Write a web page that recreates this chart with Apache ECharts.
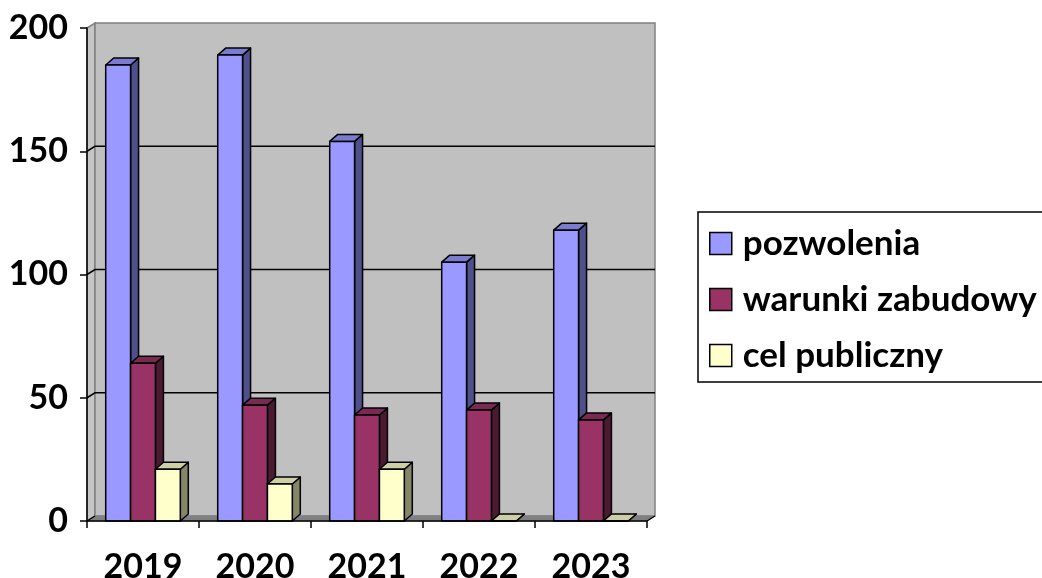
<!DOCTYPE html>
<html><head><meta charset="utf-8">
<script src="https://cdn.jsdelivr.net/npm/echarts/dist/echarts.min.js"></script>
<style>html,body{margin:0;padding:0;background:#fff}#c{width:1042px;height:578px}</style>
</head><body><div id="c"></div>
<script>
const categories = ['2019', '2020', '2021', '2022', '2023'];
const pozwolenia = [185, 189, 154, 105, 118];
const warunkiZabudowy = [64, 47, 43, 45, 41];
const celPubliczny = [21, 15, 21, 0, 0];
const seriesNames = ['pozwolenia', 'warunki zabudowy', 'cel publiczny'];
const yTicks = [0, 50, 100, 150, 200];

const palette = [
  {front: '#9999FF', top: '#7B7BD0', side: '#4F4F8C'},
  {front: '#993366', top: '#7A2952', side: '#4A1A32'},
  {front: '#FFFFCC', top: '#CFCFA6', side: '#858567'}
];
const FONT = 'Lato';
const DX = 8, DY = 7;   // bar depth
const WX = 8, WY = 5;   // wall depth

const chart = echarts.init(document.getElementById('c'), null, {renderer: 'canvas'});

function wallRender(params, api) {
  const cs = params.coordSys;
  const x0 = cs.x, x1 = cs.x + cs.width, yT = cs.y, yB = cs.y + cs.height;
  const ch = [];
  ch.push({type: 'polygon', shape: {points: [[x0, yT], [x0 + WX, yT - WY], [x0 + WX, yB - WY], [x0, yB]]},
    style: {fill: '#C6C6C6', stroke: '#808080', lineWidth: 1.5}});
  ch.push({type: 'rect', shape: {x: x0 + WX, y: yT - WY, width: cs.width, height: cs.height},
    style: {fill: '#C0C0C0', stroke: '#808080', lineWidth: 1.5}});
  ch.push({type: 'polygon', shape: {points: [[x0, yB], [x0 + WX, yB - WY], [x1 + WX, yB - WY], [x1, yB]]},
    style: {fill: '#808080', stroke: '#808080', lineWidth: 1}});
  yTicks.forEach(v => {
    if (v === 0 || v === yTicks[yTicks.length - 1]) return;
    const y = api.coord([0, v])[1];
    ch.push({type: 'polyline', shape: {points: [[x0, y], [x0 + WX, y - WY], [x1 + WX, y - WY]]},
      style: {stroke: '#000', lineWidth: 1.5, fill: null}});
  });
  ch.push({type: 'polyline', shape: {points: [[x0, yB], [x0 + WX, yB - WY]]}, style: {stroke: '#000', lineWidth: 1.2, fill: null}});
  ch.push({type: 'polyline', shape: {points: [[x1, yB], [x1 + WX, yB - WY]]}, style: {stroke: '#000', lineWidth: 1.2, fill: null}});
  return {type: 'group', children: ch};
}

function barRender(si) {
  const c = palette[si];
  return function (params, api) {
    const ci = api.value(0), v = api.value(1);
    const base = api.coord([ci, 0]);
    const top = api.coord([ci, v]);
    const catW = api.size([1, 0])[0];
    const bw = catW * 0.222;
    const xL = base[0] - 1.5 * bw + si * bw, xR = xL + bw;
    const yT = top[1], yB = base[1];
    const st = {stroke: '#000', lineWidth: 1.5, lineJoin: 'round'};
    return {type: 'group', children: [
      {type: 'polygon', shape: {points: [[xR, yB], [xR + DX, yB - DY], [xR + DX, yT - DY], [xR, yT]]},
        style: Object.assign({fill: c.side}, st)},
      {type: 'polygon', shape: {points: [[xL, yT], [xL + DX, yT - DY], [xR + DX, yT - DY], [xR, yT]]},
        style: Object.assign({fill: c.top}, st)},
      {type: 'rect', shape: {x: xL, y: yT, width: bw, height: yB - yT},
        style: Object.assign({fill: c.front}, st)}
    ]};
  };
}

const seriesData = [pozwolenia, warunkiZabudowy, celPubliczny];

const series = [{
  type: 'custom', name: '_wall', silent: true, z: 1,
  renderItem: wallRender, data: [[0, 0]], encode: {x: 0, y: 1}
}];
seriesData.forEach((arr, si) => {
  series.push({
    type: 'custom', name: seriesNames[si], z: 2 + si,
    renderItem: barRender(si),
    itemStyle: {color: palette[si].front, borderColor: '#000', borderWidth: 1.5},
    encode: {x: 0, y: 1},
    data: arr.map((v, i) => [i, v])
  });
});

chart.setOption({
  animation: false,
  backgroundColor: '#fff',
  grid: {left: 87, right: 395, top: 28, bottom: 57, containLabel: false, outerBoundsMode: 'none'},
  xAxis: {
    type: 'category', data: categories, z: 10,
    axisLine: {lineStyle: {color: '#000', width: 1.5}},
    axisTick: {show: true, length: 7, lineStyle: {color: '#000', width: 1.5}},
    axisLabel: {color: '#000', fontFamily: FONT, fontWeight: 'bold', fontSize: 34, margin: 29},
    splitLine: {show: false}
  },
  yAxis: {
    type: 'value', min: 0, max: 200, interval: 50, z: 10,
    axisLine: {show: true, lineStyle: {color: '#000', width: 1.5}},
    axisTick: {show: true, length: 7, lineStyle: {color: '#000', width: 1.5}},
    axisLabel: {color: '#000', fontFamily: FONT, fontWeight: 'bold', fontSize: 34, margin: 19},
    splitLine: {show: false}
  },
  legend: {
    data: seriesNames, orient: 'vertical', left: 698, top: 212,
    icon: 'rect', itemWidth: 22, itemHeight: 22, itemGap: 21,
    borderColor: '#000', borderWidth: 1.5, borderRadius: 0,
    padding: [14, 30, 9, 11],
    itemStyle: {borderColor: '#000', borderWidth: 1.5},
    textStyle: {color: '#000', fontFamily: FONT, fontWeight: 'bold', fontSize: 35, lineHeight: 34, padding: [0, 0, 0, 6]}
  },
  series: series
});
</script></body></html>
